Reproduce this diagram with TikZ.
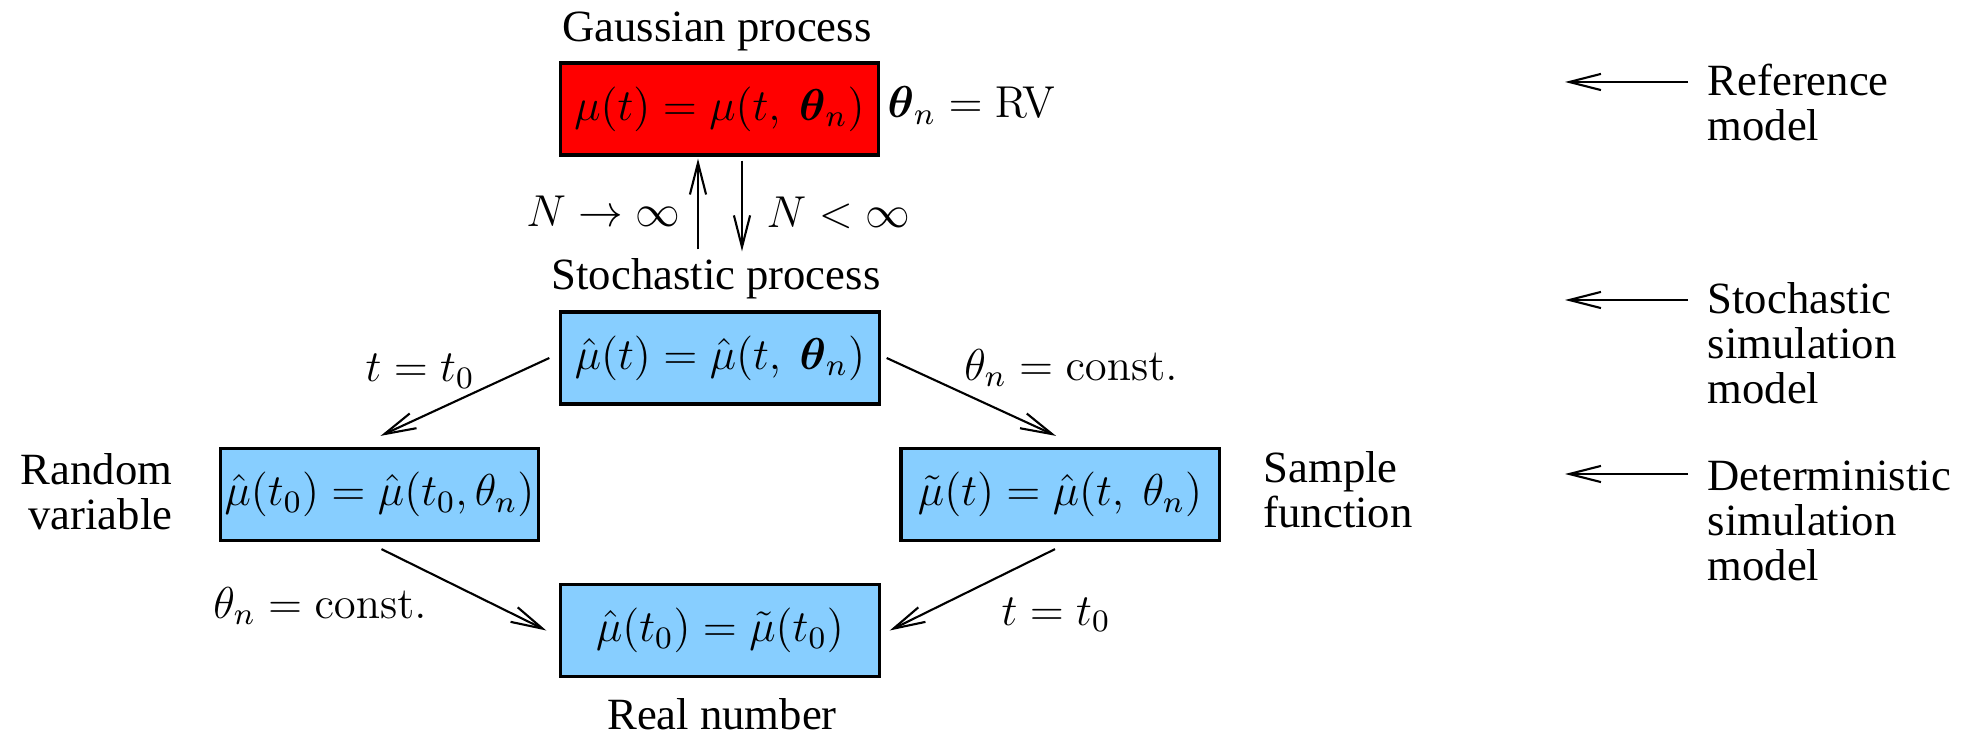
\RequirePackage{fix-cm}
\documentclass[tikz,border=0pt]{standalone}
\usepackage{amsmath, amssymb}
\usepackage[no-math]{fontspec}
\setmainfont{Liberation Serif}
\usepackage{tikz}
\usetikzlibrary{arrows.meta}
\usepackage{xcolor}
\definecolor{gpred}{HTML}{FF0000}
\definecolor{simblue}{HTML}{87CEFF}

\begin{document}
\begin{tikzpicture}[
    x=0.01cm, y=-0.01cm,
    font=\fontsize{12.7pt}{12.8pt}\selectfont,
    box/.style={draw=black, line width=0.9pt,
                minimum width=3.18cm, minimum height=0.92cm, inner sep=1pt},
    lbl/.style={inner sep=0pt},
    arr/.style={-{Straight Barb[length=9pt,width=4.6pt]}, line width=0.6pt}
  ]
    \useasboundingbox (0,0) rectangle (1973,737);

    % model boxes
    \node[box, fill=gpred] (gp) at (719.5,109)
      {$\mu(t)=\mu(t,\ \boldsymbol{\theta}_n)$};
    \node[box, fill=simblue] (sp) at (720,358)
      {$\hat\mu(t)=\hat\mu(t,\ \boldsymbol{\theta}_n)$};
    \node[box, fill=simblue] (rv) at (379.5,494.5)
      {$\hat\mu(t_0)=\hat\mu(t_0,\theta_n)$};
    \node[box, fill=simblue] (sf) at (1060,494.5)
      {$\tilde\mu(t)=\hat\mu(t,\ \theta_n)$};
    \node[box, fill=simblue] (rn) at (720,630.5)
      {$\hat\mu(t_0)=\tilde\mu(t_0)$};

    % names of the boxes
    \node[lbl, anchor=base] (gplbl) at (717,42) {Gaussian process};
    \node[lbl, anchor=base] (splbl) at (716,290) {Stochastic process};
    \node[lbl, anchor=base] (rnlbl) at (722,729) {Real number};
    \node[lbl, anchor=east, align=right] (rvlbl) at (173,492) {Random\\variable};
    \node[lbl, anchor=west, align=left] (sflbl) at (1263,490) {Sample\\function};
    \node[lbl, anchor=base west] (rvtheta) at (887,118)
      {$\boldsymbol{\theta}_n=\mathrm{RV}$};

    % labels on the arrows
    \node[lbl, anchor=base east] (ninf) at (681,227) {$N\rightarrow\infty$};
    \node[lbl, anchor=base west] (nfin) at (766,228) {$N<\infty$};
    \node[lbl, anchor=base] (tl) at (420,382) {$t=t_0$};
    \node[lbl, anchor=base] (tr) at (1071,380) {$\theta_n=\mathrm{const.}$};
    \node[lbl, anchor=base] (bl) at (320,618) {$\theta_n=\mathrm{const.}$};
    \node[lbl, anchor=base] (br) at (1056,625) {$t=t_0$};

    % model levels
    \node[lbl, anchor=north west, align=left] (lvref) at (1707,63)
      {Reference\\model};
    \node[lbl, anchor=north west, align=left] (lvsto) at (1707,282)
      {Stochastic\\simulation\\model};
    \node[lbl, anchor=north west, align=left] (lvdet) at (1707,460)
      {Deterministic\\simulation\\model};
    \coordinate (reftip) at (1565,82);
    \coordinate (stotip) at (1565,300);
    \coordinate (dettip) at (1565,474);

    \draw[arr] ([shift={(-18,-9)}]splbl.north) -- ([shift={(-21.5,2)}]gp.south);
    \draw[arr] ([shift={(22.5,4)}]gp.south) -- ([shift={(26,-7)}]splbl.north);

    \draw[arr] ([shift={(-10,0)}]sp.west) -- ([shift={(1,-11)}]rv.north);
    \draw[arr] ([shift={(6,0)}]sp.east) -- ([shift={(-4,-11)}]sf.north);
    \draw[arr] ([shift={(2,7)}]rv.south) -- ([shift={(-13,0)}]rn.west);
    \draw[arr] ([shift={(-5,7)}]sf.south) -- ([shift={(9,0)}]rn.east);

    \draw[arr] (lvref.north west |- reftip) ++(-19,0) -- (reftip);
    \draw[arr] (lvsto.north west |- stotip) ++(-19,0) -- (stotip);
    \draw[arr] (lvdet.north west |- dettip) ++(-19,0) -- (dettip);
\end{tikzpicture}
\end{document}
